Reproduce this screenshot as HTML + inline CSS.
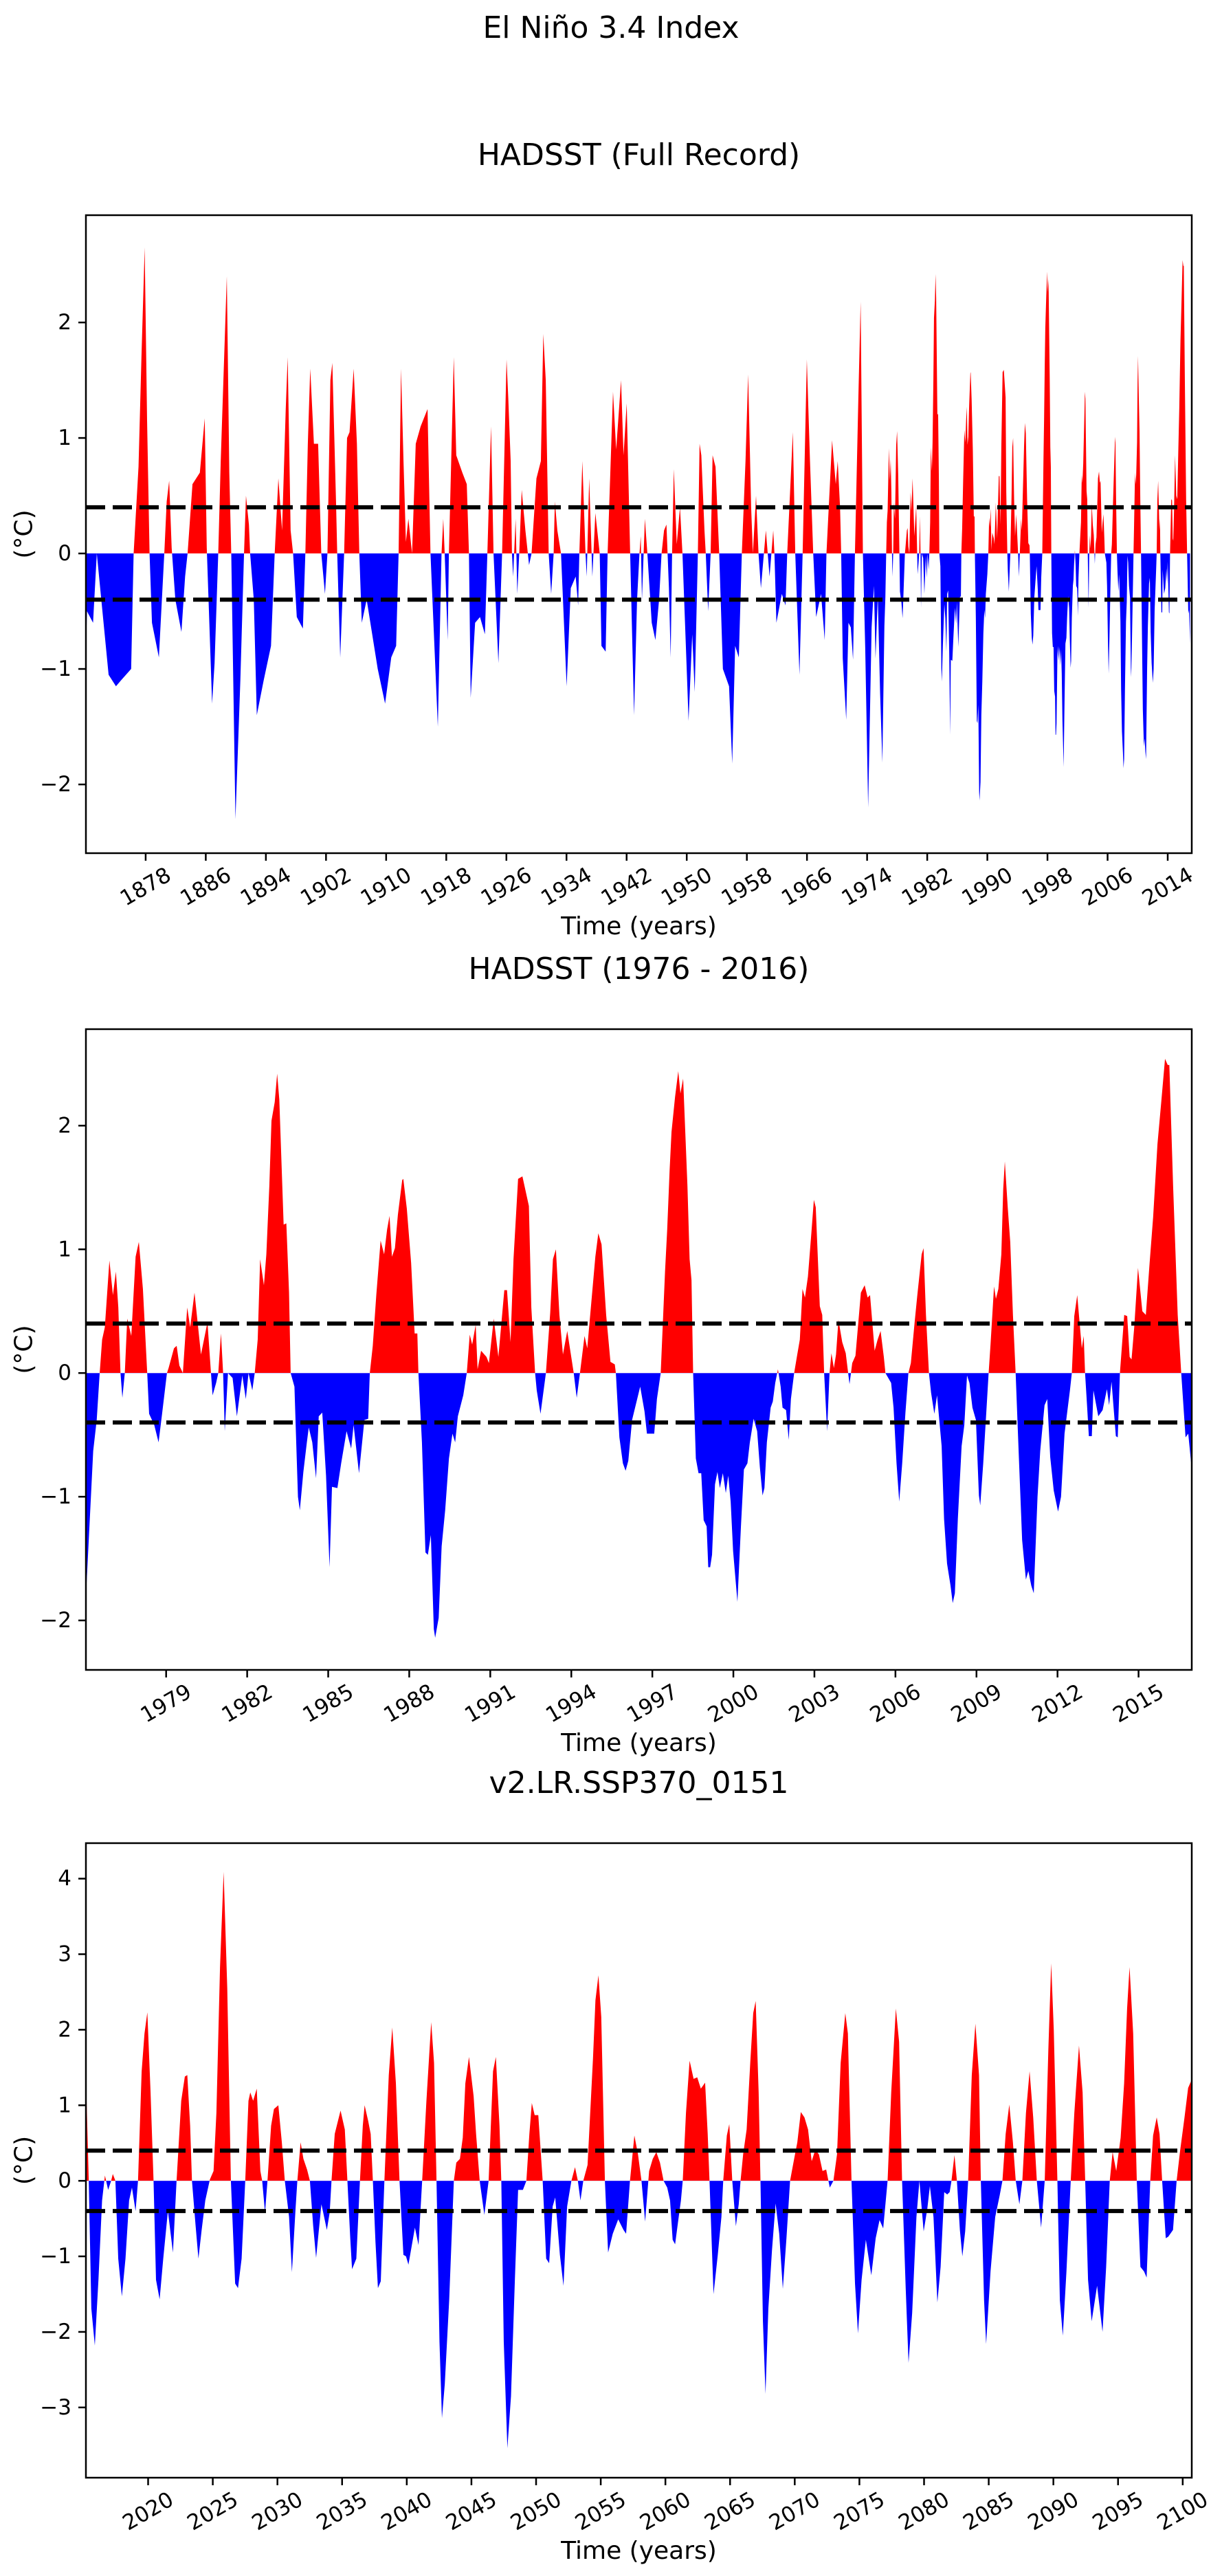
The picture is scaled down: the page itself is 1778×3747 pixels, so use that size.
<!DOCTYPE html>
<html>
<head>
<meta charset="utf-8">
<style>
html,body{margin:0;padding:0;background:#fff;}
svg{display:block;font-family:"DejaVu Sans","Liberation Sans",sans-serif;}
</style>
</head>
<body>
<svg id="fig" xmlns="http://www.w3.org/2000/svg" width="1778" height="3747" viewBox="0 0 1778 3747">
<rect x="0" y="0" width="1778" height="3747" fill="#fff"/>
<text x="889" y="55" font-size="44" text-anchor="middle">El Niño 3.4 Index</text>
</svg>
<script>
// ---------- HADSST data (early part) ----------
const earlyYears = [1870.03,1870.19,1871.0,1871.50,1873.07,1874.05,1874.70,1876.07,1876.40,1877.05,1877.44,1877.87,1878.19,1878.52,1878.84,1879.76,1880.48,1880.80,1881.13,1881.46,1881.95,1882.76,1883.25,1883.58,1884.23,1885.21,1885.86,1886.13,1886.84,1887.17,1887.66,1887.99,1888.80,1889.13,1889.39,1889.95,1890.60,1891.09,1891.35,1891.74,1891.90,1892.39,1892.79,1893.70,1894.68,1895.17,1895.66,1896.15,1896.64,1896.90,1897.29,1897.62,1898.11,1898.92,1899.25,1899.58,1899.90,1900.39,1900.95,1901.37,1901.86,1902.19,1902.58,1902.84,1903.33,1903.49,1903.89,1904.41,1904.80,1905.13,1905.68,1906.11,1906.43,1906.76,1907.41,1908.88,1909.86,1910.68,1911.33,1911.66,1911.98,1912.31,1912.63,1912.96,1913.45,1913.94,1914.59,1915.51,1915.90,1916.88,1917.37,1917.60,1917.79,1918.19,1918.35,1919.00,1919.33,1920.14,1920.73,
1921.02,1921.25,1921.84,1922.49,1923.14,1923.47,1923.96,1924.29,1924.94,1925.43,1926.02,1926.25,1926.57,1926.74,1926.90,1927.23,1927.45,1927.71,1928.04,1928.53,1929.02,1929.35,1930.00,1930.59,1930.91,1931.24,1931.63,1931.96,1932.29,1932.45,1932.78,1933.27,1934.02,1934.57,1935.22,1935.55,1935.71,1936.11,1936.53,1936.69,1937.02,1937.44,1937.84,1938.42,1938.65,1939.21,1939.47,1940.19,1940.61,1941.26,1941.59,1942.01,1942.47,1942.99,1943.39,1943.71,1943.88,1944.04,1944.43,1944.76,1945.34,1945.83,1946.32,1946.65,1946.98,1947.30,1947.63,1947.86,1948.05,1948.28,1948.67,1949.10,1949.43,1950.08,1950.24,1950.73,1951.06,1951.48,1951.71,1951.94,1952.36,1952.53,1952.85,1953.18,1953.44,1953.83,1954.32,1954.81,1955.63,1956.05,1956.44,1956.93,1957.33,1957.82,1958.17,1958.57,1958.80,1959.22,1959.55,1959.87,1960.53,1961.02,1961.51,1961.67,1961.93,1962.65,1963.14,1963.37,1964.12,1964.44,1965.00,1965.42,1965.98,1966.40,1966.83,1967.22,1967.87,1968.36,1968.59,1969.34,1969.83,1970.09,1970.40,1970.55,
1970.76,1971.22,1971.52,1971.83,1972.13,1972.38,1972.83,1973.14,1973.44,1973.75,1974.14,1974.60,1974.91,1975.12,1975.42,1975.73];
const earlyValues = [-0.92,-0.5,-0.6,0,-1.05,-1.15,-1.1,-1.0,0,0.75,1.7,2.65,1.15,0,-0.6,-0.9,0,0.45,0.63,0.05,-0.4,-0.68,-0.2,0,0.6,0.7,1.17,0.05,-1.3,-0.95,0,0.8,2.4,0.7,0,-2.3,-1.1,0,0.5,0.25,0,-0.4,-1.4,-1.1,-0.8,0,0.65,0.2,1.25,1.7,0.2,0,-0.55,-0.65,0,0.95,1.6,0.95,0.95,0,-0.35,0,1.5,1.65,0.45,0,-0.9,0,1.0,1.05,1.6,0.95,0,-0.6,-0.4,-1.0,-1.3,-0.9,-0.8,0,1.6,0.8,0.1,0.3,0,0.95,1.1,1.25,0,-1.5,0,0.3,0,-0.75,0,1.7,0.85,0.7,0.6,
0,-1.25,-0.6,-0.55,-0.7,0,1.1,0,-0.95,0,1.68,1.35,0.8,0,-0.2,0.3,-0.35,0,0.55,0.2,-0.1,0,0.65,0.8,1.9,1.5,0,-0.35,0,0.45,0.2,0,-1.15,-0.3,-0.2,-0.45,0,0.8,0,-0.2,0.65,-0.2,0.35,0,-0.8,-0.85,0,1.4,0.9,1.5,0.85,1.3,0,-1.4,-0.4,0,0.15,-0.4,0.3,0,-0.6,-0.75,-0.4,0,0.2,0.25,-0.3,-0.9,0,0.73,0.08,0.4,0,-1.15,-1.45,-0.7,-1.2,0,0.95,0.85,0.2,0,-0.5,0,0.85,0.75,0,-1.0,-1.15,-1.82,-0.8,-0.9,0,0.8,1.55,0.4,0,0.5,0,-0.3,0.2,-0.2,0.2,0,-0.6,-0.35,-0.45,0,1.05,0,-1.05,0,1.68,0.8,0,-0.55,-0.35,-0.75,0,0.98,0.6,0.8,0.4,0,
-0.91,-1.44,-0.6,-0.64,-0.92,0,1.33,2.18,0,-0.82,-2.2,-0.64,-0.28,-0.91,-0.37,-1.21];
// ---------- HADSST 1976-2016 ----------
const recentYears = [1976.03,1976.30,1976.43,1976.54,1976.63,1976.73,1976.90,1977.03,1977.14,1977.23,1977.31,1977.38,1977.47,1977.56,1977.71,1977.87,1977.99,1978.14,1978.30,1978.37,1978.56,1978.72,1978.85,1979.03,1979.09,1979.29,1979.39,1979.49,1979.62,1979.78,1979.89,1980.05,1980.29,1980.53,1980.66,1980.72,1980.85,1980.93,1981.03,1981.11,1981.17,1981.29,1981.46,1981.62,1981.82,1981.95,1982.05,1982.19,1982.28,1982.39,1982.48,1982.62,1982.71,1982.82,1982.90,1983.02,1983.11,1983.19,1983.35,1983.45,1983.55,1983.61,1983.75,1983.88,1983.95,1984.08,1984.21,1984.28,1984.41,1984.55,1984.65,1984.78,1984.92,1985.05,1985.14,1985.34,1985.48,1985.68,1985.85,1985.94,1986.14,1986.34,1986.48,1986.54,1986.65,1986.78,1986.94,1987.07,1987.18,1987.27,1987.36,1987.47,1987.58,1987.74,1987.78,1987.91,1988.07,1988.20,1988.30,1988.34,1988.47,1988.60,1988.69,1988.80,1988.91,1988.96,1989.09,1989.20,1989.33,1989.47,1989.60,1989.70,1989.80,1990.00,1990.13,1990.24,1990.33,1990.46,1990.53,1990.66,1990.86,1990.95,1991.13,1991.30,1991.52,1991.62,1991.75,1991.86,1992.03,1992.19,1992.43,1992.52,1992.66,1992.72,1992.86,1993.06,1993.22,1993.32,1993.43,1993.56,1993.69,1993.85,1994.09,1994.20,1994.32,1994.49,1994.59,1994.72,1994.89,1995.00,1995.12,1995.29,1995.45,1995.61,1995.65,1995.78,1995.91,1996.01,1996.11,1996.25,1996.55,1996.71,
1996.80,1997.07,1997.17,1997.31,1997.47,1997.55,1997.64,1997.71,1997.84,1997.96,1998.04,1998.14,1998.30,1998.38,1998.45,1998.51,1998.61,1998.71,1998.81,1998.90,1999.01,1999.07,1999.14,1999.21,1999.32,1999.41,1999.50,1999.61,1999.72,1999.81,1999.90,1999.99,2000.15,2000.28,2000.39,2000.52,2000.61,2000.75,2000.88,2000.98,2001.08,2001.15,2001.24,2001.38,2001.46,2001.55,2001.65,2001.75,2001.82,2001.95,2002.05,2002.13,2002.25,2002.35,2002.46,2002.56,2002.65,2002.76,2002.89,2002.98,2003.05,2003.20,2003.29,2003.36,2003.47,2003.56,2003.63,2003.72,2003.80,2003.89,2004.03,2004.16,2004.30,2004.40,2004.52,2004.72,2004.86,2004.97,2005.06,2005.17,2005.23,2005.34,2005.45,2005.57,2005.63,2005.84,2005.93,2006.04,2006.14,2006.25,2006.37,2006.48,2006.57,2006.71,2006.81,2006.97,2007.04,2007.13,2007.24,2007.32,2007.44,2007.54,2007.71,2007.80,2007.91,2008.04,2008.12,2008.20,2008.31,2008.45,2008.55,2008.65,2008.74,2008.85,2008.98,2009.09,2009.14,2009.25,2009.36,2009.45,2009.52,2009.65,2009.72,2009.81,2009.92,2009.99,2010.05,2010.16,2010.25,2010.35,2010.45,2010.56,2010.69,2010.83,2010.92,2011.03,2011.12,2011.26,2011.36,2011.52,2011.62,2011.73,2011.86,2012.02,2012.13,2012.26,2012.46,2012.53,2012.62,2012.73,2012.90,2012.97,2013.02,2013.09,2013.16,2013.27,2013.33,2013.51,2013.67,2013.83,2013.91,2014.00,2014.16,2014.23,2014.31,2014.47,2014.58,2014.67,2014.74,2014.84,2014.98,2015.14,2015.27,2015.41,2015.54,2015.70,2015.84,2015.98,2016.08,2016.14,2016.28,2016.45,2016.58,2016.74,2016.84,2016.97];
const recentValues = [-1.81,-0.63,-0.38,0,0.27,0.37,0.91,0.63,0.82,0.53,0,-0.2,0,0.44,0.3,0.94,1.06,0.68,0,-0.33,-0.42,-0.56,-0.33,0,0.04,0.2,0.22,0.06,0,0.53,0.37,0.65,0.15,0.41,0,-0.18,-0.08,0,0.32,0,-0.47,0,-0.04,-0.35,-0.02,-0.21,0,-0.14,0,0.27,0.92,0.71,0.96,1.51,2.04,2.19,2.42,2.21,1.2,1.21,0.65,0,-0.11,-1.0,-1.11,-0.8,-0.56,-0.44,-0.56,-0.85,-0.35,-0.32,-0.83,-1.57,-0.92,-0.93,-0.73,-0.47,-0.61,-0.42,-0.81,-0.38,-0.37,0,0.22,0.63,1.07,0.96,1.16,1.27,0.94,1.01,1.28,1.56,1.57,1.33,0.89,0.32,0.32,0,-0.56,-1.45,-1.47,-1.31,-2.07,-2.14,-1.98,-1.4,-1.11,-0.69,-0.49,-0.56,-0.35,-0.18,0,0.31,0.23,0.39,0.03,0.18,0.13,0.08,0.44,0.13,0.67,0.67,0.25,0.92,1.57,1.59,1.35,0.53,0,-0.14,-0.33,0,0.49,0.92,1.0,0.47,0.15,0.34,0,-0.2,0,0.3,0.2,0.52,0.94,1.13,1.04,0.47,0.09,0.07,0,-0.52,-0.73,-0.79,-0.71,-0.38,-0.11,-0.31,
-0.49,-0.49,-0.21,0,0.82,1.16,1.64,1.95,2.23,2.44,2.26,2.38,1.51,0.92,0.75,0,-0.69,-0.81,-0.81,-1.19,-1.24,-1.57,-1.57,-1.47,-0.9,-0.8,-0.93,-0.81,-0.97,-0.83,-1.04,-1.44,-1.85,-1.24,-0.78,-0.73,-0.56,-0.37,-0.47,-0.76,-0.99,-0.93,-0.56,-0.28,-0.23,-0.08,0.03,-0.11,-0.28,-0.3,-0.54,-0.21,0,0.13,0.27,0.68,0.61,0.78,1.14,1.4,1.34,0.54,0.47,0,-0.47,0,0.16,0.04,0.15,0.43,0.25,0.16,-0.09,0.08,0.14,0.65,0.71,0.61,0.63,0.34,0.18,0.27,0.34,0.13,0,-0.08,-0.28,-0.73,-1.04,-0.73,-0.32,0,0.08,0.41,0.63,0.96,1.01,0.47,0,-0.16,-0.33,-0.18,-0.59,-1.18,-1.54,-1.72,-1.86,-1.78,-1.18,-0.59,-0.42,-0.02,-0.08,-0.28,-0.38,-0.99,-1.07,-0.73,-0.33,0,0.23,0.70,0.60,0.68,0.96,1.49,1.71,1.33,1.06,0.47,0,-0.63,-1.35,-1.67,-1.6,-1.72,-1.78,-1.0,-0.63,-0.26,-0.21,-0.68,-0.95,-1.12,-1.0,-0.49,-0.14,0,0.46,0.63,0.2,0.3,0,-0.25,-0.51,-0.51,-0.14,-0.35,-0.3,-0.13,-0.26,-0.07,-0.51,-0.52,0,0.47,0.46,0.13,0.11,0.37,0.85,0.5,0.47,0.89,1.26,1.85,2.19,2.54,2.49,2.49,1.51,0.47,0,-0.52,-0.49,-0.78];
// ---------- v2.LR.SSP370_0151 ----------
const simYears = [2015.19,2015.41,2015.61,2015.88,2016.16,2016.44,2016.66,2016.91,2017.14,2017.27,2017.47,2017.69,2017.97,2018.25,2018.53,2018.75,2019.03,2019.22,2019.50,2019.72,2019.94,2020.19,2020.42,2020.61,2020.89,2021.17,2021.53,2021.92,2022.20,2022.56,2022.84,2023.03,2023.25,2023.39,2023.67,2023.89,2024.14,2024.42,2024.78,2025.06,2025.28,2025.56,2025.84,2026.12,2026.40,2026.73,2026.95,2027.23,2027.51,2027.76,2027.90,2028.12,2028.40,2028.68,2028.82,2029.04,2029.23,2029.51,2029.73,2030.07,2030.34,2030.57,2030.90,2031.12,2031.40,2031.54,2031.79,2032.01,2032.29,2032.51,2032.76,2032.99,2033.40,2033.54,2033.82,2034.04,2034.18,2034.43,2034.66,2034.88,2035.21,2035.41,2035.63,2035.77,2036.10,2036.38,2036.60,2036.74,2037.02,2037.21,2037.38,2037.58,2037.77,2037.99,2038.27,2038.61,2038.88,2039.16,2039.44,2039.74,2039.94,2040.13,2040.63,2040.91,2041.19,2041.52,2041.89,2042.11,2042.30,2042.53,2042.72,2042.94,2043.28,2043.64,2043.83,2044.11,2044.33,2044.53,2044.81,2045.17,2045.36,2045.64,2046.00,2046.33,2046.67,2046.89,2047.17,2047.31,2047.50,2047.78,2048.06,2048.36,2048.61,2048.98,2049.25,2049.48,2049.67,2049.89,2050.17,2050.51,2050.78,2051.01,2051.28,2051.48,2051.84,2052.12,2052.40,2052.73,2053.01,2053.23,2053.43,2053.65,2053.98,2054.40,2054.59,2054.82,2055.04,2055.32,2055.57,2055.93,2056.35,2056.76,2056.96,2057.26,2057.60,2057.88,2058.15,2058.43,
2058.74,2059.02,2059.30,2059.58,2059.86,2060.14,2060.36,2060.56,2060.75,2060.98,2061.20,2061.34,2061.59,2061.87,2062.18,2062.46,2062.74,2063.07,2063.27,2063.41,2063.72,2064.05,2064.33,2064.47,2064.75,2064.94,2065.17,2065.45,2065.67,2065.81,2066.01,2066.28,2066.56,2066.79,2066.98,2067.21,2067.35,2067.54,2067.74,2067.96,2068.24,2068.52,2068.80,2069.08,2069.36,2069.64,2069.92,2070.20,2070.47,2070.75,2071.03,2071.31,2071.59,2071.87,2072.15,2072.43,2072.71,2072.99,2073.27,2073.55,2073.91,2074.11,2074.39,2074.66,2074.89,2075.17,2075.50,2075.92,2076.26,2076.56,2076.84,2077.18,2077.46,2077.82,2078.07,2078.30,2078.58,2078.80,2079.08,2079.41,2079.64,2079.97,2080.25,2080.45,2080.73,2081.03,2081.28,2081.56,2081.79,2081.98,2082.12,2082.35,2082.54,2082.77,2082.96,2083.18,2083.41,2083.69,2083.97,2084.25,2084.39,2084.64,2084.80,2085.14,2085.50,2085.84,2086.06,2086.31,2086.59,2086.87,2087.09,2087.37,2087.60,2087.88,2088.16,2088.44,2088.72,2089.05,2089.33,2089.61,2089.83,2090.03,2090.31,2090.50,2090.73,2091.01,2091.34,2091.62,2091.98,2092.26,2092.46,2092.68,2092.96,2093.38,2093.80,2094.08,2094.36,2094.58,2094.86,2095.20,2095.47,2095.70,2095.89,2096.17,2096.45,2096.73,2097.01,2097.21,2097.49,2097.71,2097.99,2098.21,2098.41,2098.69,2098.88,2099.25,2099.53,2099.80,2100.14,2100.42,2100.70];
const simValues = [1.4,0,-1.69,-2.18,-1.31,-0.26,0.07,-0.12,0,0.09,0,-1.03,-1.53,-1.03,-0.26,-0.09,-0.4,0,1.45,1.95,2.23,1.17,0,-1.31,-1.57,-1.03,-0.4,-0.95,0,1.06,1.38,1.4,0.73,0,-0.59,-1.03,-0.65,-0.26,0.02,0.13,0.9,2.83,4.09,2.55,0,-1.36,-1.42,-1.03,0,1.06,1.17,1.06,1.22,0.13,0,-0.42,0,0.73,0.95,1.0,0.51,0,-0.48,-1.21,-0.37,0,0.51,0.29,0.15,0,-0.59,-1.02,-0.31,-0.42,-0.65,-0.42,0,0.62,0.78,0.93,0.68,0,-0.76,-1.17,-1.03,0,0.73,1.0,0.79,0.62,0,-0.81,-1.42,-1.33,0,1.4,2.03,1.29,0,-0.98,-1.0,-1.11,-0.62,-0.85,0,1.06,2.1,1.56,0,-2.13,-3.14,-2.69,-1.58,0,0.24,0.29,0.57,1.29,1.64,1.12,0.62,0,-0.45,0,1.45,1.64,0.73,0,-2.13,-3.54,-2.85,-1.31,-0.12,-0.12,0,0.62,1.03,0.87,0.87,0,-1.03,-1.09,-0.34,-0.22,-0.98,-1.39,-0.34,0,0.18,0,-0.26,0,0.21,1.62,2.39,2.72,2.17,0,-0.95,-0.7,-0.51,-0.65,-0.7,0,0.6,0.35,0,-0.54,
0.13,0.29,0.38,0.24,0,-0.09,-0.26,-0.78,-0.84,-0.54,-0.26,0,0.9,1.59,1.35,1.37,1.22,1.3,0.62,0,-1.5,-0.98,-0.48,0,0.6,0.75,0,-0.6,-0.31,0,0.35,0.68,1.56,2.22,2.38,1.17,0,-1.86,-2.82,-1.69,-0.92,-0.3,-0.7,-1.43,-0.76,0,0.26,0.51,0.91,0.84,0.68,0.26,0.41,0.35,0.13,0.15,-0.09,0,0.35,1.56,2.22,1.95,0,-1.36,-2.02,-1.31,-0.78,-1.25,-0.76,-0.52,-0.63,0,1.17,2.28,1.84,0,-1.42,-2.41,-1.75,-0.48,0,-0.67,-0.37,-0.07,-0.48,-1.61,-1.14,-0.15,-0.18,-0.15,0,0.34,0,-0.65,-1.0,-0.67,0,1.4,2.08,1.4,0,-1.58,-2.16,-1.2,-0.48,-0.2,0,0.62,1.01,0.51,0,-0.31,0,0.9,1.45,0.84,0,-0.62,0,1.73,2.88,2.0,0,-1.58,-2.05,-1.2,0,0.9,1.79,1.17,0,-1.31,-1.86,-1.39,-2.0,-1.14,0,0.38,0.13,0.57,1.29,2.28,2.83,1.95,0,-1.14,-1.2,-1.28,0,0.6,0.84,0.62,0,-0.76,-0.74,-0.65,0,0.4,0.84,1.23,1.34];
// ---------- tick labels ----------
const ticks1 = [1878,1886,1894,1902,1910,1918,1926,1934,1942,1950,1958,1966,1974,1982,1990,1998,2006,2014];
const ticks2 = [1979,1982,1985,1988,1991,1994,1997,2000,2003,2006,2009,2012,2015];
const ticks3 = [2020,2025,2030,2035,2040,2045,2050,2055,2060,2065,2070,2075,2080,2085,2090,2095,2100];
const yticks1 = [-2,-1,0,1,2];
const yticks2 = [-2,-1,0,1,2];
const yticks3 = [-3,-2,-1,0,1,2,3,4];
const thresholds = [0.4,-0.4];

const NS='http://www.w3.org/2000/svg';
const svg=document.getElementById('fig');
function mk(tag,attrs,parent){const e=document.createElementNS(NS,tag);for(const k in attrs)e.setAttribute(k,attrs[k]);(parent||svg).appendChild(e);return e;}
function fmt(v){return v<0?'\u2212'+Math.abs(v):String(v);}

function drawPanel(id,title,box,xd,yd,years,values,xt,yt){
  const L=box[0],T=box[1],R=box[2],B=box[3];
  const xs=t=>L+(t-xd[0])/(xd[1]-xd[0])*(R-L);
  const ys=v=>B-(v-yd[0])/(yd[1]-yd[0])*(B-T);
  const g=mk('g',{});
  
  
  const t=mk('text',{x:(L+R)/2,y:T-73,'font-size':44,'text-anchor':'middle'},g);
  t.textContent=title;
  
  
  const defs=mk('defs',{},g);
  const y0=ys(0);
  const cpR=mk('clipPath',{id:id+'-pos'},defs);
  mk('rect',{x:L,y:T,width:R-L,height:y0-T},cpR);
  const cpB=mk('clipPath',{id:id+'-neg'},defs);
  mk('rect',{x:L,y:y0,width:R-L,height:B-y0},cpB);
  let d='M'+xs(years[0]).toFixed(2)+','+y0.toFixed(2);
  for(let i=0;i<years.length;i++){d+='L'+xs(years[i]).toFixed(2)+','+ys(values[i]).toFixed(2);}
  d+='L'+xs(years[years.length-1]).toFixed(2)+','+y0.toFixed(2)+'Z';
  const pr=mk('path',{d:d,fill:'#ff0000','clip-path':'url(#'+id+'-pos)'},g);
  
  
  const pb=mk('path',{d:d,fill:'#0000ff','clip-path':'url(#'+id+'-neg)'},g);
  
  
  thresholds.forEach(th=>{
    const ln=mk('line',{x1:L,x2:R,y1:ys(th),y2:ys(th),stroke:'#000','stroke-width':6,'stroke-dasharray':'28 11'},g);
    
    
  });
  const fr=mk('rect',{x:L,y:T,width:R-L,height:B-T,fill:'none',stroke:'#000','stroke-width':2.5},g);
  
  
  xt.forEach(v=>{
    const x=xs(v);
    mk('line',{x1:x,x2:x,y1:B,y2:B+11,stroke:'#000','stroke-width':2.5},g);
    const tx=mk('text',{x:x,y:B+49,'font-size':31,'text-anchor':'middle','dominant-baseline':'central',transform:'rotate(-30 '+x+' '+(B+49)+')'},g);
    tx.textContent=v;
    
    
  });
  yt.forEach(v=>{
    const y=ys(v);
    mk('line',{x1:L-11,x2:L,y1:y,y2:y,stroke:'#000','stroke-width':2.5},g);
    const ty=mk('text',{x:L-21,y:y,'font-size':31,'text-anchor':'end','dominant-baseline':'central'},g);
    ty.textContent=fmt(v);
    
    
  });
  const xl=mk('text',{x:(L+R)/2,y:B+118,'font-size':36,'text-anchor':'middle'},g);
  xl.textContent='Time (years)';
  
  
  const cy=(T+B)/2;
  const yl=mk('text',{x:35,y:cy,'font-size':36,'text-anchor':'middle','dominant-baseline':'central',transform:'rotate(-90 35 '+cy+')'},g);
  yl.textContent='(°C)';
  
  
}

const fullYears=earlyYears.concat(recentYears);
const fullValues=earlyValues.concat(recentValues);
drawPanel('hadsst-full','HADSST (Full Record)',[125,313,1734,1241],[1870.05,2017.2],[-2.595,2.929],fullYears,fullValues,ticks1,yticks1);
drawPanel('hadsst-recent','HADSST (1976 - 2016)',[125,1497,1734,2429],[1976.03,2016.97],[-2.40,2.78],recentYears,recentValues,ticks2,yticks2);
drawPanel('ssp370','v2.LR.SSP370_0151',[125,2681,1734,3604],[2015.19,2100.7],[-3.93,4.47],simYears,simValues,ticks3,yticks3);
</script>
</body>
</html>
